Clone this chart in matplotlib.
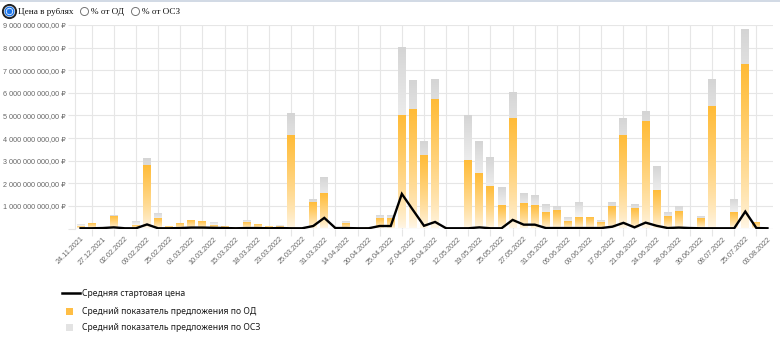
import matplotlib
matplotlib.use("Agg")
import matplotlib.pyplot as plt
import numpy as np
from matplotlib.lines import Line2D
from matplotlib.ticker import FixedLocator, FuncFormatter

# ---------------- data (values in billions of rubles) ----------------
tick_labels = ["24.11.2021", "27.12.2021", "02.02.2022", "09.02.2022", "25.02.2022",
               "01.03.2022", "10.03.2022", "15.03.2022", "18.03.2022", "23.03.2022",
               "25.03.2022", "31.03.2022", "14.04.2022", "20.04.2022", "25.04.2022",
               "27.04.2022", "29.04.2022", "12.05.2022", "19.05.2022", "25.05.2022",
               "27.05.2022", "31.05.2022", "06.06.2022", "09.06.2022", "17.06.2022",
               "21.06.2022", "24.06.2022", "28.06.2022", "30.06.2022", "08.07.2022",
               "25.07.2022", "03.08.2022"]

od_bn = [0.11, 0.24, 0.05, 0.57, 0.0, 0.14, 2.80, 0.48, 0.10, 0.24,
         0.36, 0.32, 0.17, 0.11, 0.05, 0.27, 0.18, 0.10, 0.10, 4.13,
         0.0, 1.19, 1.56, 0.0, 0.23, 0.0, 0.05, 0.47, 0.47, 5.02,
         5.28, 3.24, 5.73, 0.0, 0.0, 3.05, 2.47, 1.90, 1.05, 4.88,
         1.11, 1.05, 0.71, 0.84, 0.35, 0.53, 0.49, 0.27, 1.01, 4.13,
         0.91, 4.77, 1.70, 0.57, 0.77, 0.0, 0.46, 5.40, 0.0, 0.71,
         7.26, 0.29, 0.0]

osz_bn = [0.20, 0.24, 0.05, 0.60, 0.0, 0.33, 3.10, 0.70, 0.10, 0.25,
          0.38, 0.33, 0.27, 0.12, 0.06, 0.36, 0.20, 0.10, 0.15, 5.11,
          0.0, 1.29, 2.26, 0.0, 0.33, 0.0, 0.06, 0.58, 0.58, 8.03,
          6.55, 3.88, 6.63, 0.0, 0.0, 5.02, 3.88, 3.18, 1.83, 6.03,
          1.56, 1.49, 1.08, 1.01, 0.51, 1.17, 0.52, 0.38, 1.15, 4.90,
          1.09, 5.20, 2.76, 0.71, 1.01, 0.0, 0.57, 6.60, 0.0, 1.30,
          8.82, 0.29, 0.0]

start_bn = [0.01, 0.01, 0.02, 0.05, 0.01, 0.01, 0.18, 0.01, 0.01, 0.02,
            0.04, 0.04, 0.03, 0.02, 0.01, 0.02, 0.02, 0.01, 0.02, 0.01,
            0.01, 0.11, 0.47, 0.02, 0.02, 0.01, 0.01, 0.11, 0.11, 1.53,
            0.82, 0.12, 0.29, 0.01, 0.01, 0.01, 0.05, 0.01, 0.01, 0.38,
            0.17, 0.17, 0.02, 0.02, 0.02, 0.02, 0.02, 0.02, 0.08, 0.25,
            0.05, 0.26, 0.12, 0.02, 0.04, 0.02, 0.01, 0.01, 0.01, 0.01,
            0.75, 0.02, 0.01]

BN = 1e9
od = np.array(od_bn) * BN
osz = np.array(osz_bn) * BN
start = np.array(start_bn) * BN
n = len(od)
x = np.arange(n)

FAM_SANS = ["Liberation Sans", "DejaVu Sans"]
FAM_SERIF = ["Liberation Serif", "DejaVu Serif"]
FAM_LEG = ["Noto Sans", "DejaVu Sans"]

W, H = 780, 341
fig = plt.figure(figsize=(W / 100, H / 100), dpi=100)
fig.patch.set_facecolor("white")

left, right, bottom_px, top_px = 75, 773, 228.5, 25
ax = fig.add_axes([left / W, (H - bottom_px) / H, (right - left) / W, (bottom_px - top_px) / H])
ax.set_xlim(-0.5, n - 0.5)
ax.set_ylim(0, 9 * BN)

# ---------------- gradient bars ----------------
grad = np.linspace(0, 1, 256).reshape(-1, 1)


def make_cmap(bottom_rgb, top_rgb, gamma=1.0):
    b = np.array(bottom_rgb) / 255.0
    t = np.array(top_rgb) / 255.0
    g = grad[:, 0] ** gamma
    img = b[None, :] * (1 - g[:, None]) + t[None, :] * g[:, None]
    return img.reshape(256, 1, 3)


gray_img = make_cmap((255, 255, 255), (212, 212, 212), gamma=1.6)
orange_img = make_cmap((255, 247, 232), (255, 187, 54), gamma=0.75)

bw = 0.72
gbars = ax.bar(x, osz, width=bw, color="none", edgecolor="none", zorder=2)
obars = ax.bar(x, od, width=bw, color="none", edgecolor="none", zorder=3)

for bars, img, z in ((gbars, gray_img, 2), (obars, orange_img, 3)):
    for b in bars:
        h = b.get_height()
        if h <= 0:
            continue
        x0 = b.get_x()
        im = ax.imshow(img, extent=[x0, x0 + b.get_width(), 0, h], origin="lower",
                       aspect="auto", zorder=z, interpolation="bilinear")
        im.set_clip_path(b)

ax.set_xlim(-0.5, n - 0.5)
ax.set_ylim(0, 9 * BN)

# ---------------- line ----------------
ax.plot(x, start, color="black", lw=1.7, zorder=5, solid_joinstyle="miter")

# ---------------- axes styling ----------------
grid_c = "#e6e6e6"
for s in ax.spines.values():
    s.set_visible(False)
ax.spines["left"].set_visible(True)
ax.spines["left"].set_color(grid_c)
ax.spines["left"].set_linewidth(0.8)

ax.yaxis.set_major_locator(FixedLocator(np.arange(0, 10) * BN))


def fmt_rub(v, pos):
    if v == 0:
        return ""
    s = f"{int(round(v)):,}".replace(",", " ")
    return s + ",00 ₽"


ax.yaxis.set_major_formatter(FuncFormatter(fmt_rub))
ax.tick_params(axis="y", length=5, width=0.8, color=grid_c, pad=2,
               labelsize=5.2, labelcolor="#666666")
for lab in ax.get_yticklabels():
    lab.set_fontfamily(FAM_SANS)
ax.grid(axis="y", color=grid_c, lw=0.8, zorder=0)

# x ticks: labels on even categories, grid on odd categories
ax.xaxis.set_major_locator(FixedLocator(x[::2]))
ax.set_xticklabels(tick_labels, rotation=45, ha="right", va="top",
                   rotation_mode="anchor", fontsize=5.2, color="#666666",
                   family=FAM_SANS)
ax.tick_params(axis="x", which="major", length=0, pad=5)
ax.xaxis.set_minor_locator(FixedLocator(x[1::2]))
ax.tick_params(axis="x", which="minor", length=5, width=0.8, color=grid_c)
ax.grid(axis="x", which="minor", color=grid_c, lw=0.8, zorder=0)
ax.axhline(0, color="#dcdcdc", lw=0.8, zorder=1)
ax.set_axisbelow(True)

# ---------------- top radio controls ----------------
def px(xp, yp):
    return xp / W, 1 - yp / H

fig.add_artist(Line2D([0, 1], [1 - 0.5 / H] * 2, transform=fig.transFigure,
                      color="#c9d3e0", lw=1.2))

# selected radio
cx, cy = px(9, 11)
fig.add_artist(Line2D([cx], [cy], transform=fig.transFigure, marker="o", ms=9.5,
                      mfc="white", mec="#222222", mew=1.4, ls="none"))
fig.add_artist(Line2D([cx], [cy], transform=fig.transFigure, marker="o", ms=6.2,
                      mfc="white", mec="#1a73e8", mew=1.0, ls="none"))
fig.add_artist(Line2D([cx], [cy], transform=fig.transFigure, marker="o", ms=3.6,
                      mfc="#1a73e8", mec="#1a73e8", mew=0.5, ls="none"))
for rx in (83.5, 134.5):
    ux, uy = px(rx, 11)
    fig.add_artist(Line2D([ux], [uy], transform=fig.transFigure, marker="o", ms=5.8,
                          mfc="white", mec="#767676", mew=0.7, ls="none"))

for tx, txt in ((18, "Цена в рублях"), (91, "% от ОД"), (142, "% от ОСЗ")):
    fx, fy = px(tx, 11.5)
    fig.text(fx, fy, txt, family=FAM_SERIF, fontsize=6.6, color="#111111",
             ha="left", va="center")

# ---------------- legend ----------------
lx0, lx1 = 62, 80
yl = 293.3
fig.add_artist(Line2D([lx0 / W, lx1 / W], [1 - yl / H] * 2, transform=fig.transFigure,
                      color="black", lw=1.8))
fig.add_artist(plt.Rectangle((66 / W, 1 - 314.5 / H), 7 / W, 7 / H,
                             transform=fig.transFigure, color="#ffbe45", lw=0))
fig.add_artist(plt.Rectangle((66 / W, 1 - 331.2 / H), 7 / W, 7 / H,
                             transform=fig.transFigure, color="#e3e3e3", lw=0))
leg_texts = ["Средняя стартовая цена",
             "Средний показатель предложения по ОД",
             "Средний показатель предложения по ОСЗ"]
for yy, t in zip((293.3, 311, 327.7), leg_texts):
    fx, fy = px(82.5, yy)
    fig.text(fx, fy, t, family=FAM_LEG, fontsize=6.2, color="#1a1a1a",
             ha="left", va="center")

fig.savefig("out.png", dpi=100, facecolor="white")
